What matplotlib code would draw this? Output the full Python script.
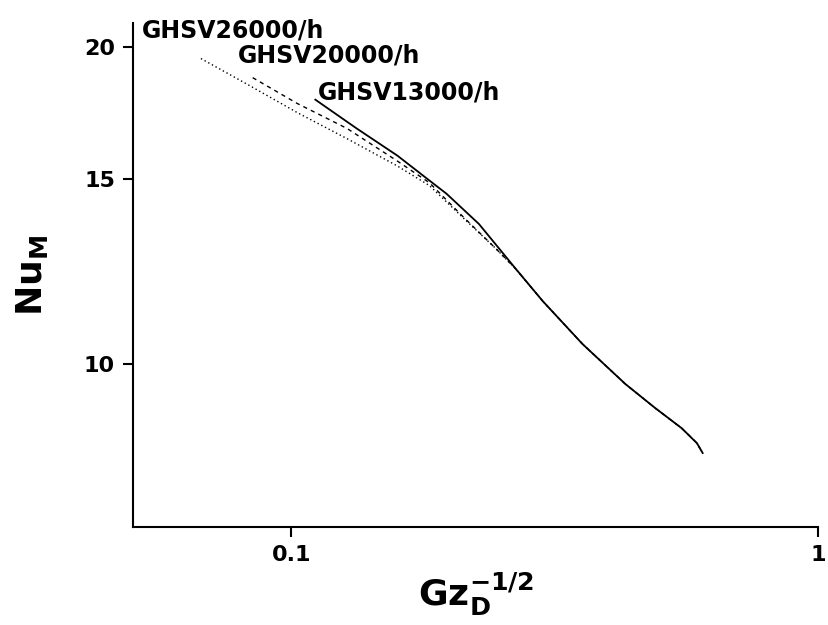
import matplotlib
matplotlib.use("Agg")
import matplotlib.pyplot as plt
from matplotlib.ticker import NullLocator

# GHSV 13000/h (solid)
x_13000 = [0.111, 0.133, 0.159, 0.183, 0.197, 0.227, 0.267, 0.300, 0.357, 0.431, 0.491, 0.551, 0.589, 0.604]
nu_13000 = [17.84, 16.75, 15.78, 14.94, 14.52, 13.59, 12.31, 11.48, 10.45, 9.57, 9.08, 8.69, 8.41, 8.23]

# GHSV 20000/h (dashed)
x_20000 = [0.0844, 0.1026, 0.1275, 0.1585, 0.1829, 0.2120, 0.2447, 0.2669, 0.300, 0.357, 0.431, 0.491, 0.551, 0.589, 0.604]
nu_20000 = [18.72, 17.69, 16.75, 15.61, 14.87, 13.80, 12.87, 12.31, 11.48, 10.45, 9.57, 9.08, 8.69, 8.41, 8.23]

# GHSV 26000/h (dotted)
x_26000 = [0.0673, 0.0826, 0.1026, 0.1275, 0.1585, 0.1829, 0.2120, 0.2447, 0.2669, 0.300, 0.357, 0.431, 0.491, 0.551, 0.589, 0.604]
nu_26000 = [19.52, 18.44, 17.34, 16.38, 15.44, 14.78, 13.77, 12.87, 12.31, 11.48, 10.45, 9.57, 9.08, 8.69, 8.41, 8.23]

x_ticks = [0.1, 1]
x_ticklabels = ["0.1", "1"]
y_ticks = [10, 15, 20]
y_ticklabels = ["10", "15", "20"]

fig = plt.figure(figsize=(8.29, 6.25), dpi=100)
ax = fig.add_axes([0.1604, 0.1568, 0.8263, 0.8064])

ax.plot(x_26000, nu_26000, color="black", lw=1.0, linestyle=(0, (1, 2)))
ax.plot(x_20000, nu_20000, color="black", lw=1.0, linestyle=(0, (3, 3)))
ax.plot(x_13000, nu_13000, color="black", lw=1.3, linestyle="-")

ax.set_xscale("log")
ax.set_yscale("log")
ax.set_xlim(0.05, 1)
ax.set_ylim(7, 21.1)

ax.set_xticks(x_ticks)
ax.set_xticklabels(x_ticklabels)
ax.set_yticks(y_ticks)
ax.set_yticklabels(y_ticklabels)
ax.xaxis.set_minor_locator(NullLocator())
ax.yaxis.set_minor_locator(NullLocator())

for lab in ax.get_xticklabels() + ax.get_yticklabels():
    lab.set_fontweight("bold")
    lab.set_fontsize(16)

ax.tick_params(direction="out", length=7, width=1.5, pad=6)
ax.spines["top"].set_visible(False)
ax.spines["right"].set_visible(False)
ax.spines["left"].set_linewidth(1.5)
ax.spines["bottom"].set_linewidth(1.5)

#curve labels
txt = dict(fontsize=17, fontweight="bold", va="center", ha="left")
ax.text(0.0519, 20.75, "GHSV26000/h", **txt)
ax.text(0.0791, 19.65, "GHSV20000/h", **txt)
ax.text(0.1120, 18.12, "GHSV13000/h", **txt)

ax.set_xlabel(r"$\mathbf{Gz_D^{-1/2}}$", fontsize=26, labelpad=4)
ax.set_ylabel(r"$\mathbf{Nu_M}$", fontsize=26, labelpad=24)

plt.savefig("out.png", dpi=100)
